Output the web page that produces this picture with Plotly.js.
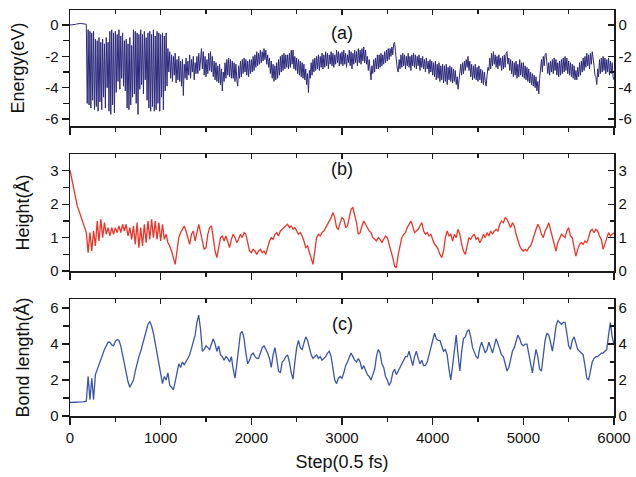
<!DOCTYPE html>
<html>
<head>
<meta charset="utf-8">
<script src="https://cdn.plot.ly/plotly-3.0.1.min.js"></script>
<style>html,body{margin:0;padding:0;background:#fff;}#chart{width:636px;height:477px;}</style>
</head>
<body>
<div id="chart"></div>
<script>
// ---- data ----
const energyStep = 10;   // step spacing of energy samples
const profileStep = 20;  // step spacing of height / bond samples

const energy = [
0,0,0,0,0,0.02,0.04,0.06,0.08,0.09,0.1,0.1,0.1,0.09,0.08,0.08,0.07,0.06,0.05,-5.0,
-0.3,-5.1,-0.4,-5.3,-0.5,-4.8,-0.4,-5.4,-0.9,-5.2,-1.0,-5.5,-0.8,-4.9,-1.1,-5.4,-0.9,-4.6,-1.2,-5.3,
-0.8,-4.0,-1.1,-5.5,-0.4,-5.7,-0.3,-5.1,-0.5,-5.6,-0.4,-4.3,-0.6,-3.6,-0.3,-4.1,-0.7,-3.4,-0.5,-3.9,
-1.0,-4.2,-0.9,-5.3,-1.2,-5.4,-0.8,-5.1,-1.3,-4.6,-0.3,-4.4,-0.4,-5.0,-0.5,-5.7,-0.6,-4.1,-0.3,-3.8,
-0.6,-4.4,-0.4,-3.5,-0.8,-4.8,-0.5,-5.3,-0.4,-5.5,-0.6,-5.2,-0.3,-5.5,-0.7,-5.4,-0.4,-5.0,-0.5,-5.5,
-0.6,-4.6,-0.5,-5.4,-0.7,-4.2,-0.5,-3.9,-1.5,-3.0,-1.7,-3.4,-1.9,-3.6,-2.0,-3.2,-1.8,-3.7,-2.2,-3.5,
-2.0,-3.6,-2.3,-3.9,-2.2,-4.5,-2.5,-3.4,-2.1,-3.5,-2.3,-3.2,-1.9,-3.4,-2.2,-3.0,-2.0,-3.5,-2.4,-3.1,
-2.0,-3.1,-1.8,-2.9,-1.9,-1.5,-2.8,-1.7,-3.2,-2.0,-3.3,-2.2,-3.1,-1.8,-2.9,-1.7,-3.0,-2.0,-3.3,-2.3,
-3.5,-2.4,-3.6,-2.6,-3.7,-2.5,-3.8,-2.8,-4.2,-3.0,-3.6,-2.4,-3.4,-2.2,-3.2,-2.1,-3.3,-2.2,-3.4,-2.3,
-3.4,-2.4,-3.6,-2.5,-3.5,-3.9,-2.6,-3.4,-2.3,-3.3,-2.2,-3.1,-2.1,-3.0,-2.2,-3.2,-2.3,-3.3,-2.2,-3.1,
-2.2,-3.0,-2.0,-2.9,-1.9,-2.7,-1.7,-2.6,-1.8,-2.5,-1.6,-2.4,-1.7,-2.3,-1.5,-2.2,-1.6,-2.5,-1.9,-2.7,
-2.1,-3.1,-2.3,-3.4,-2.5,-3.6,-2.6,-3.5,-2.4,-3.4,-2.2,-3.2,-2.0,-3.0,-1.9,-2.9,-1.8,-2.8,-1.9,-2.7,
-1.9,-2.8,-1.8,-2.7,-1.6,-2.5,-1.6,-2.8,-2.0,-2.9,-2.1,-3.1,-2.2,-3.2,-2.3,-3.3,-2.4,-3.4,-2.5,-3.5,
-2.8,-3.8,-3.1,-4.3,-2.9,-3.4,-2.4,-3.2,-2.2,-3.0,-2.1,-2.9,-2.0,-2.8,-1.9,-2.9,-2.0,-2.7,-1.8,-2.8,
-1.9,-2.7,-1.7,-2.6,-1.8,-2.8,-1.9,-2.5,-1.7,-2.6,-1.8,-2.7,-1.9,-2.5,-1.6,-2.4,-1.7,-2.6,-1.8,-2.5,
-1.7,-2.6,-1.6,-2.5,-1.8,-2.7,-1.9,-2.4,-1.6,-2.6,-1.7,-2.8,-1.8,-2.5,-1.6,-2.4,-1.7,-2.6,-1.5,-2.4,
-1.6,-2.5,-1.5,-2.3,-1.4,-2.4,-1.6,-2.5,-2.0,-2.9,-2.2,-3.2,-3.5,-2.6,-3.1,-2.2,-3.0,-2.1,-2.8,-1.9,
-2.8,-1.9,-2.7,-1.8,-2.6,-1.9,-2.5,-1.7,-2.4,-1.6,-2.3,-1.5,-2.2,-1.5,-2.0,-1.4,-1.9,-1.2,-1.1,-1.7,
-2.4,-2.8,-3.0,-2.2,-2.8,-1.9,-2.7,-1.8,-2.6,-1.9,-2.8,-2.0,-2.6,-1.8,-2.7,-2.0,-2.9,-1.9,-2.6,-1.8,
-2.7,-1.9,-2.8,-2.0,-2.6,-1.9,-2.9,-2.1,-2.7,-2.0,-2.8,-2.2,-3.0,-2.1,-2.8,-2.3,-3.1,-2.2,-3.0,-2.3,
-3.2,-2.4,-3.3,-2.3,-3.5,-2.5,-3.4,-2.4,-3.6,-2.6,-3.5,-2.5,-3.7,-2.6,-3.6,-2.5,-3.8,-2.7,-3.5,-2.6,
-3.6,-2.7,-3.7,-2.8,-3.6,-2.9,-3.8,-3.3,-4.1,-3.6,-3.3,-2.5,-3.2,-2.4,-3.1,-2.3,-2.9,-2.2,-2.7,-2.0,
-2.9,-2.3,-3.3,-2.5,-3.5,-2.6,-3.4,-2.5,-3.5,-2.7,-3.6,-2.6,-3.5,-2.8,-3.7,-2.9,-3.8,-3.0,-3.6,-3.9,
-3.2,-2.7,-2.9,-2.1,-2.8,-1.8,-2.6,-1.7,-2.5,-1.9,-2.7,-2.0,-2.8,-1.9,-2.6,-2.1,-2.9,-2.0,-2.8,-1.9,
-2.7,-1.8,-1.7,-2.5,-2.1,-2.9,-2.2,-3.1,-2.3,-3.3,-2.4,-3.2,-2.3,-3.4,-2.5,-3.3,-2.2,-3.2,-2.4,-3.3,
-2.4,-3.4,-2.6,-3.5,-2.7,-3.6,-2.8,-3.7,-3.0,-3.8,-3.1,-3.9,-3.2,-4.0,-3.3,-4.2,-3.6,-4.4,-3.4,-2.8,
-2.2,-3.0,-2.0,-2.6,-1.9,-1.8,-2.4,-3.1,-2.4,-3.2,-2.3,-3.0,-2.2,-3.1,-2.1,-2.9,-2.2,-3.2,-2.4,-3.3,
-2.3,-3.2,-2.2,-3.1,-2.1,-3.0,-2.0,-2.9,-2.1,-3.1,-2.3,-3.2,-2.4,-3.3,-2.5,-3.4,-2.6,-3.5,-2.9,-3.5,
-2.7,-3.3,-2.4,-3.2,-2.3,-3.0,-2.1,-2.9,-2.0,-2.7,-1.8,-2.6,-1.9,-2.8,-1.8,-2.5,-1.7,-2.4,-2.6,-3.2,
-3.3,-3.8,-2.8,-3.3,-2.2,-3.1,-2.1,-3.0,-2.0,-2.9,-2.1,-3.1,-2.2,-3.0,-2.1,-3.2,-2.3,-3.1,-2.4,-3.3,
-3.5
];

const height = [
3.02,2.75,2.45,2.15,1.95,1.80,1.65,1.50,1.35,1.15,
0.55,1.15,0.60,1.20,0.75,1.50,0.90,1.55,1.00,1.45,
1.10,1.30,1.05,1.30,1.10,1.30,1.15,1.35,1.15,1.40,
1.20,1.40,1.05,1.30,0.95,1.35,0.80,1.45,0.70,1.30,
0.75,1.40,0.85,1.50,0.95,1.55,1.00,1.50,0.95,1.45,
0.90,1.40,0.95,1.10,0.85,0.75,0.60,0.35,0.20,0.60,
1.00,1.15,1.25,1.35,1.20,0.95,0.80,1.10,1.20,0.90,
1.20,1.40,1.15,0.85,0.65,0.70,1.10,1.30,1.35,1.00,
0.60,0.40,0.65,1.00,1.05,0.90,1.05,0.85,0.70,0.95,
1.10,1.00,0.85,0.95,1.10,1.00,1.15,1.10,0.80,0.60,
0.55,0.65,0.60,0.50,0.60,0.65,0.55,0.60,0.50,0.70,
0.90,1.00,0.95,1.10,1.15,1.05,1.20,1.25,1.30,1.35,
1.40,1.30,1.35,1.25,1.30,1.20,1.10,1.15,1.05,0.90,
0.70,0.75,0.55,0.35,0.20,0.60,1.00,1.10,1.05,1.15,
1.20,1.30,1.40,1.50,1.60,1.75,1.60,1.30,1.25,1.45,
1.60,1.55,1.30,1.35,1.60,1.85,1.90,1.70,1.45,1.10,
1.15,1.35,1.50,1.40,1.30,1.20,1.15,1.00,0.95,0.90,
1.00,0.95,0.85,0.95,1.05,1.00,0.80,0.65,0.40,0.15,
0.10,0.50,0.80,1.00,1.10,1.15,1.30,1.40,1.50,1.35,
1.15,1.20,1.25,1.35,1.45,1.20,1.10,1.15,1.05,1.10,
0.95,0.80,0.75,0.65,0.50,0.40,0.60,1.00,1.20,1.05,
1.10,0.90,1.10,1.00,1.25,1.10,0.80,0.60,0.50,0.75,
1.00,0.95,1.05,1.10,0.95,1.00,0.85,0.95,1.10,1.00,
1.15,1.05,1.20,1.10,1.20,1.25,1.20,1.40,1.50,1.45,
1.60,1.55,1.40,1.30,1.45,1.35,1.10,0.90,0.75,0.65,
0.60,0.65,0.60,0.70,0.75,0.90,1.10,1.25,1.40,1.30,
1.10,1.00,1.20,1.30,1.45,1.25,1.05,0.80,0.60,0.85,
1.00,1.10,1.05,1.00,1.20,1.30,1.05,1.00,0.70,0.45,
0.65,0.80,0.85,0.80,0.90,0.85,1.00,1.20,1.25,1.15,
1.25,1.20,1.05,0.95,0.65,0.80,1.00,1.15,1.05,1.10,
1.15
];

const bond = [
0.75,0.75,0.75,0.76,0.76,0.77,0.77,0.78,0.80,0.82,
2.20,0.90,2.10,0.90,2.30,2.60,2.90,3.20,3.40,3.70,
3.90,4.10,4.10,3.95,3.90,4.15,4.25,4.20,3.90,3.40,
2.80,2.20,1.90,1.60,1.80,2.00,2.50,3.00,3.30,3.60,
4.00,4.40,4.70,5.10,5.25,5.00,4.60,4.00,3.50,2.80,
2.30,1.80,2.20,2.00,2.40,1.70,1.60,1.45,1.90,2.50,
2.90,2.70,3.00,2.85,3.00,3.20,3.40,3.80,4.10,4.50,
5.20,5.60,4.80,3.60,3.70,3.90,3.80,3.70,4.00,4.30,
4.00,3.60,3.90,3.40,3.30,3.10,3.30,3.20,3.00,3.30,
2.60,2.10,2.90,3.80,4.60,4.70,4.30,3.50,2.90,3.10,
3.40,3.50,3.30,3.20,3.20,3.50,3.80,3.90,3.70,3.50,
3.20,2.70,3.40,3.80,3.20,2.50,2.40,3.00,3.10,3.30,
3.40,3.00,2.40,2.05,3.00,3.80,4.20,3.80,3.70,4.00,
4.40,4.20,3.70,3.40,3.20,3.30,3.40,3.20,3.30,3.10,
3.20,3.30,3.50,3.60,3.30,2.60,2.00,1.80,2.10,2.20,
2.10,2.40,2.80,3.00,3.30,3.50,3.30,3.10,3.00,3.20,
3.00,2.60,2.80,2.50,2.30,2.20,2.00,2.30,2.60,3.30,
3.70,3.50,2.90,2.70,2.20,2.00,1.70,1.90,2.40,2.60,
2.30,2.50,2.70,2.90,3.10,3.30,3.30,3.60,3.20,2.80,
3.30,3.60,3.20,2.90,3.10,2.80,2.80,3.00,3.40,3.80,
4.30,4.60,4.30,4.20,4.20,3.90,3.60,3.70,3.40,2.60,
2.00,2.80,3.80,4.50,3.40,2.50,3.60,4.30,4.40,4.70,
4.80,4.40,3.80,3.50,3.30,3.20,3.80,4.10,3.80,3.50,
3.70,4.10,3.80,3.50,3.90,4.30,4.00,3.70,3.40,3.30,
2.90,2.50,2.70,3.20,3.60,3.80,4.10,4.50,4.30,4.00,
3.90,4.00,4.00,3.50,2.90,2.40,3.10,3.70,3.30,2.60,
2.50,3.40,4.20,4.60,4.50,4.10,3.60,4.20,5.00,5.30,
5.20,5.10,5.20,5.20,4.60,3.90,3.70,4.20,4.40,4.00,
3.70,3.60,3.50,3.40,2.80,2.10,2.00,2.50,3.00,3.20,
3.30,3.30,3.40,3.50,3.50,3.60,3.70,4.50,5.20,4.40,
4.00
];

const stepTicks = [0, 1000, 2000, 3000, 4000, 5000, 6000];
const stepMinor = [500, 1500, 2500, 3500, 4500, 5500];
const energyTicks = [0, -2, -4, -6];
const energyTickText = ['0', '-2', '-4', '-6'];
const energyMinor = [-1, -3, -5];
const heightTicks = [0, 1, 2, 3];
const heightMinor = [0.5, 1.5, 2.5];
const bondTicks = [0, 2, 4, 6];
const bondMinor = [1, 3, 5];
const panelLabels = ['(a)', '(b)', '(c)'];
const yTitles = ['Energy(eV)', 'Height(Å)', 'Bond length(Å)'];
const xTitle = 'Step(0.5 fs)';

// ---- build ----
const stepsE = energy.map((_, i) => i * energyStep);
const stepsH = height.map((_, i) => i * profileStep);
const stepsB = bond.map((_, i) => i * profileStep);

const FONT = 'Liberation Sans, Arial, Helvetica, sans-serif';
const AX = '#1a1a1a';

const traces = [
  {x: stepsE, y: energy, xaxis: 'x', yaxis: 'y', type: 'scatter', mode: 'lines',
   line: {color: '#2D2A7C', width: 1}, hoverinfo: 'skip'},
  {x: stepsH, y: height, xaxis: 'x2', yaxis: 'y2', type: 'scatter', mode: 'lines',
   line: {color: '#EE3429', width: 1.3}, hoverinfo: 'skip'},
  {x: stepsB, y: bond, xaxis: 'x3', yaxis: 'y3', type: 'scatter', mode: 'lines',
   line: {color: '#3A55AA', width: 1.3}, hoverinfo: 'skip'},
  {x: [], y: [], xaxis: 'x4', yaxis: 'y4', type: 'scatter', mode: 'lines', showlegend: false},
  {x: [], y: [], xaxis: 'x5', yaxis: 'y5', type: 'scatter', mode: 'lines', showlegend: false},
  {x: [], y: [], xaxis: 'x6', yaxis: 'y6', type: 'scatter', mode: 'lines', showlegend: false}
];

const domains = [[0.714, 1], [0.357, 0.645], [0, 0.288]];
const yRanges = [[-6.45, 0.96], [0, 3.5], [0, 6.5]];
const yTickVals = [energyTicks, heightTicks, bondTicks];
const yTickText = [energyTickText, heightTicks.map(String), bondTicks.map(String)];
const yMinor = [energyMinor, heightMinor, bondMinor];

function bottomX(i) {
  const showLab = (i === 2);
  return {
    domain: [0, 1], anchor: i === 0 ? 'y' : 'y' + (i + 1), range: [0, 6000], autorange: false,
    showline: true, linecolor: AX, linewidth: 1.5, showgrid: false, zeroline: false,
    tickmode: 'array', tickvals: stepTicks, ticktext: stepTicks.map(String),
    ticks: 'outside', ticklen: 7, tickwidth: 1.3, tickcolor: AX,
    minor: {tickmode: 'array', tickvals: stepMinor, ticks: 'outside', ticklen: 4, tickwidth: 1.3, tickcolor: AX, showgrid: false},
    showticklabels: showLab, tickfont: {family: FONT, size: 15, color: '#111'},
    title: showLab ? {text: xTitle, font: {family: FONT, size: 18, color: '#111'}, standoff: 11} : {text: ''},
    automargin: false, fixedrange: true
  };
}
function topX(i) {
  return {
    overlaying: i === 0 ? 'x' : 'x' + (i + 1), anchor: i === 0 ? 'y' : 'y' + (i + 1), side: 'top',
    range: [0, 6000], autorange: false,
    showline: true, linecolor: AX, linewidth: 1.5, showgrid: false, zeroline: false,
    tickmode: 'array', tickvals: stepTicks, ticks: 'inside', ticklen: 5, tickwidth: 1.3, tickcolor: AX,
    minor: {tickmode: 'array', tickvals: stepMinor, ticks: 'inside', ticklen: 4, tickwidth: 1.3, tickcolor: AX, showgrid: false},
    showticklabels: false, automargin: false, fixedrange: true
  };
}
function leftY(i) {
  return {
    domain: domains[i], anchor: i === 0 ? 'x' : 'x' + (i + 1), range: yRanges[i], autorange: false,
    showline: true, linecolor: AX, linewidth: 1.5, showgrid: false, zeroline: false,
    tickmode: 'array', tickvals: yTickVals[i], ticktext: yTickText[i],
    ticks: 'outside', ticklen: 7, tickwidth: 1.3, tickcolor: AX,
    minor: {tickmode: 'array', tickvals: yMinor[i], ticks: 'outside', ticklen: 6, tickwidth: 1.3, tickcolor: AX, showgrid: false},
    tickfont: {family: FONT, size: 15, color: '#111'},
    title: {text: yTitles[i], font: {family: FONT, size: 18, color: '#111'}, standoff: 16},
    automargin: false, fixedrange: true
  };
}
function rightY(i) {
  return {
    overlaying: i === 0 ? 'y' : 'y' + (i + 1), anchor: i === 0 ? 'x' : 'x' + (i + 1), side: 'right',
    range: yRanges[i], autorange: false,
    showline: true, linecolor: AX, linewidth: 1.5, showgrid: false, zeroline: false,
    tickmode: 'array', tickvals: yTickVals[i], ticktext: yTickText[i],
    ticks: 'inside', ticklen: 6, tickwidth: 1.3, tickcolor: AX,
    minor: {tickmode: 'array', tickvals: yMinor[i], ticks: 'inside', ticklen: 4, tickwidth: 1.3, tickcolor: AX, showgrid: false},
    tickfont: {family: FONT, size: 15, color: '#111'},
    automargin: false, fixedrange: true
  };
}

const layout = {
  width: 636, height: 477,
  margin: {l: 70, r: 22, t: 10, b: 61, pad: 0},
  paper_bgcolor: '#fff', plot_bgcolor: 'rgba(0,0,0,0)',
  showlegend: false,
  font: {family: FONT, color: '#111'},
  annotations: panelLabels.map((t, i) => ({
    text: t, showarrow: false, xref: (i === 0 ? 'x' : 'x' + (i + 1)) + ' domain',
    yref: (i === 0 ? 'y' : 'y' + (i + 1)) + ' domain',
    x: 0.5, y: [0.80, 0.87, 0.79][i], xanchor: 'center', yanchor: 'middle',
    font: {family: FONT, size: 18, color: '#111'}
  }))
};
for (let i = 0; i < 3; i++) {
  const s = i === 0 ? '' : String(i + 1);
  layout['xaxis' + s] = bottomX(i);
  layout['yaxis' + s] = leftY(i);
  layout['xaxis' + (i + 4)] = topX(i);
  layout['yaxis' + (i + 4)] = rightY(i);
}

Plotly.newPlot('chart', traces, layout, {staticPlot: true, displayModeBar: false});
</script>
</body>
</html>
